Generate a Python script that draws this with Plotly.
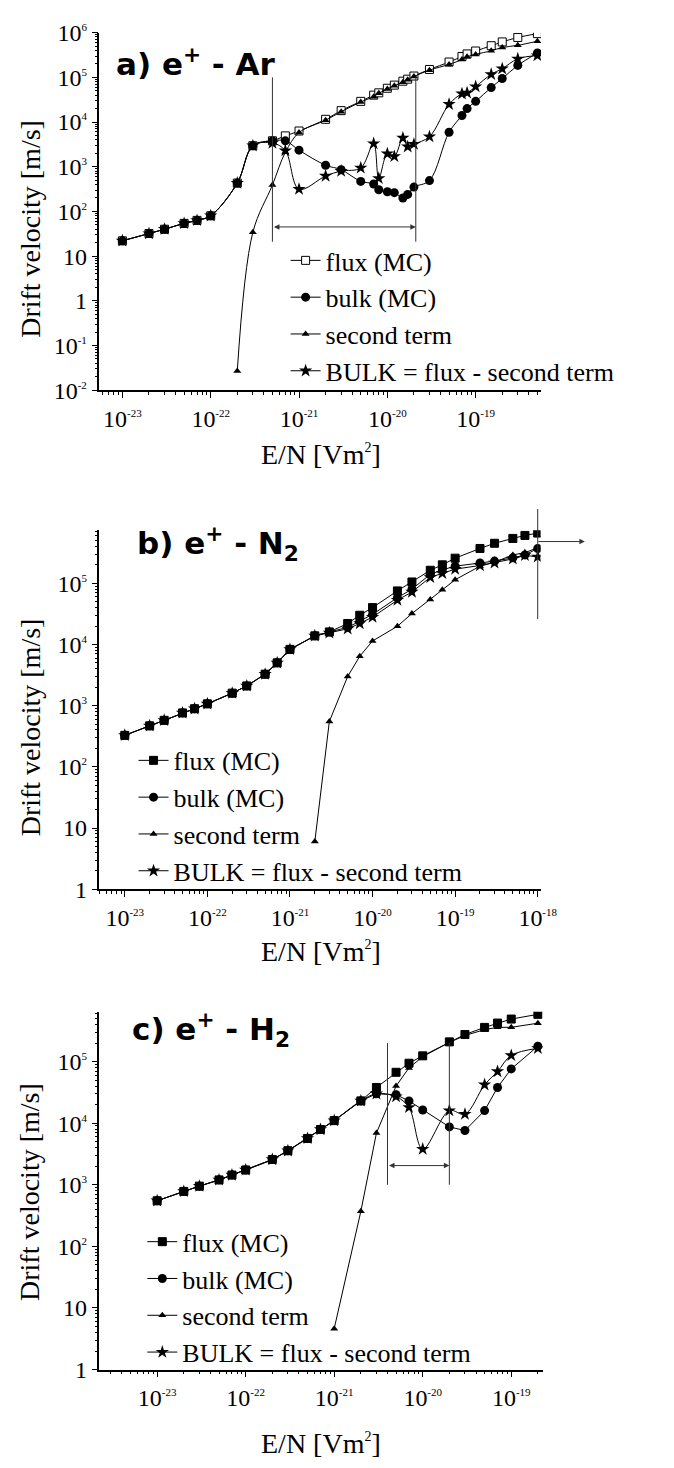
import numpy as np
import plotly.graph_objects as go

W, H = 674, 1468

# ---------------- Panel a : e+ - Ar ----------------
a_en = [1e-23, 2e-23, 3e-23, 5e-23, 7e-23, 1e-22, 2e-22, 3e-22, 5e-22, 7e-22,
        1e-21, 2e-21, 3e-21, 5e-21, 7e-21, 8e-21, 1e-20, 1.2e-20, 1.5e-20, 1.7e-20,
        2e-20, 3e-20, 5e-20, 7e-20, 8e-20, 1e-19, 1.5e-19, 2e-19, 3e-19, 5e-19]
a_flux = [22, 32, 40, 54, 63, 80, 430, 2950, 3800, 4900,
          6300, 11500, 18000, 29000, 40000, 45000, 57000, 67000, 82000, 91000,
          107000, 150000, 220000, 293000, 334000, 388000, 510000, 620000, 780000, 950000]
a_bulk = [22, 32, 40, 54, 63, 80, 430, 2950, 3800, 3800,
          2350, 1080, 860, 470, 410, 305, 275, 263, 200, 240,
          350, 490, 5900, 14000, 20000, 29000, 59000, 94000, 185000, 350000]
a_sec_en = [2e-22, 3e-22, 5e-22, 7e-22, 1e-21, 2e-21, 3e-21, 5e-21, 7e-21, 8e-21,
            1e-20, 1.2e-20, 1.5e-20, 1.7e-20, 2e-20, 3e-20, 5e-20, 7e-20, 8e-20, 1e-19,
            1.5e-19, 2e-19, 3e-19, 5e-19]
a_sec = [0.027, 34, 390, 2100, 5800, 11000, 17000, 28000, 37000, 44000,
         55000, 65000, 78000, 88000, 104000, 145000, 195000, 250000, 288000, 326000,
         393000, 464000, 520000, 643000]
a_BULK = [22, 32, 40, 54, 63, 80, 430, 2950, 3400, 2300,
          315, 620, 800, 940, 3300, 550, 1950, 1700, 4400, 2800,
          3200, 4700, 25000, 43000, 45000, 62000, 117000, 156000, 260000, 307000]

# ---------------- Panel b : e+ - N2 ----------------
b_en = [1e-23, 2e-23, 3e-23, 5e-23, 7e-23, 1e-22, 2e-22, 3e-22, 5e-22, 7e-22,
        1e-21, 2e-21, 3e-21, 5e-21, 7e-21, 1e-20, 2e-20, 3e-20, 5e-20, 7e-20,
        1e-19, 2e-19, 3e-19, 5e-19, 7e-19, 1e-18]
b_flux = [327, 467, 575, 760, 890, 1070, 1600, 2100, 3270, 5000,
          8300, 13800, 16000, 22000, 30000, 40000, 75000, 105000, 163000, 200000,
          257000, 370000, 450000, 540000, 605000, 660000]
b_bulk = [327, 467, 575, 760, 890, 1070, 1600, 2100, 3270, 5000,
          8300, 13800, 16000, 19000, 24000, 31000, 58000, 80000, 140000, 165000,
          190000, 214000, 230000, 260000, 290000, 370000]
b_sec_en = [2e-21, 3e-21, 5e-21, 7e-21, 1e-20, 2e-20, 3e-20, 5e-20, 7e-20,
            1e-19, 2e-19, 3e-19, 5e-19, 7e-19, 1e-18]
b_sec = [6, 550, 3000, 6400, 11400, 19800, 32000, 54000, 78000,
         114000, 190000, 221000, 290000, 316000, 380000]
b_BULK = [327, 467, 575, 760, 890, 1070, 1600, 2100, 3270, 5000,
          8300, 13800, 15500, 18000, 22000, 28000, 53000, 72000, 125000, 145000,
          170000, 195000, 215000, 250000, 285000, 270000]

# ---------------- Panel c : e+ - H2 ----------------
c_en = [1e-23, 2e-23, 3e-23, 5e-23, 7e-23, 1e-22, 2e-22, 3e-22, 5e-22, 7e-22,
        1e-21, 2e-21, 3e-21, 5e-21, 7e-21, 1e-20, 2e-20, 3e-20, 5e-20, 7e-20,
        1e-19, 2e-19]
c_flux = [550, 780, 950, 1200, 1440, 1740, 2570, 3570, 5650, 7900,
          11000, 23000, 38000, 67000, 94000, 124000, 209000, 275000, 359000, 422000,
          490000, 585000]
c_bulk = [550, 780, 950, 1200, 1440, 1740, 2570, 3570, 5650, 7900,
          11000, 23000, 30000, 29000, 23000, 16400, 8700, 7600, 16000, 38000,
          76000, 178000]
c_sec_en = [1e-21, 2e-21, 3e-21, 5e-21, 7e-21, 1e-20, 2e-20, 3e-20, 5e-20, 7e-20,
            1e-19, 2e-19]
c_sec = [4.6, 370, 6900, 40000, 79000, 120000, 205000, 265000, 330000, 360000,
         360000, 420000]
c_BULK = [550, 780, 950, 1200, 1440, 1740, 2570, 3570, 5650, 7900,
          11000, 23000, 30000, 27000, 18000, 3800, 16000, 14000, 42000, 69000,
          126000, 164000]

# marker lines (region brackets) in data units
a_region = [5e-22, 2.1e-20]
a_region_v = [21, 1e5]
a_arrow_y = 45
b_mark_x = 1e-18
b_arrow_y = 4.8e5
c_region = [4e-21, 2e-20]
c_region_v = [1000, 2e5]
c_arrow_y = 2050

# tick exponents
a_xexp = [-23, -22, -21, -20, -19]
a_yexp = [-2, -1, 0, 1, 2, 3, 4, 5, 6]
b_xexp = [-23, -22, -21, -20, -19, -18]
b_yexp = [0, 1, 2, 3, 4, 5]
c_xexp = [-23, -22, -21, -20, -19]
c_yexp = [0, 1, 2, 3, 4, 5]

SERIF = "Liberation Serif, Times New Roman, Times, serif"
SANS = "DejaVu Sans, Arial, sans-serif"


def px(p):
    return p / W


def py(p):
    return 1 - p / H


def plabel(e, sup=11):
    if e == 0:
        return "1"
    if e == 1:
        return "10"
    return "10<sup><span style='font-size:%dpx'>%d</span></sup>" % (sup, e)


def minor_vals(lo, hi):
    return [m * 10.0 ** e for e in range(lo, hi + 1) for m in range(2, 10)]


fig = go.Figure()

panels = [
    dict(sfx="", leg="legend", en=a_en, flux=a_flux, bulk=a_bulk, sen=a_sec_en, sec=a_sec,
         BULK=a_BULK, shape=("spline", "spline", "spline", "spline"), open_sq=True),
    dict(sfx="2", leg="legend2", en=b_en, flux=b_flux, bulk=b_bulk, sen=b_sec_en, sec=b_sec,
         BULK=b_BULK, shape=("linear", "linear", "linear", "linear"), open_sq=False),
    dict(sfx="3", leg="legend3", en=c_en, flux=c_flux, bulk=c_bulk, sen=c_sec_en, sec=c_sec,
         BULK=c_BULK, shape=("linear", "linear", "linear", "spline"), open_sq=False),
]

for p in panels:
    xa, ya = "x" + p["sfx"], "y" + p["sfx"]
    sq_fill = "white" if p["open_sq"] else "black"
    fig.add_trace(go.Scatter(
        x=p["en"], y=p["flux"], mode="lines+markers", name="flux (MC)",
        line=dict(color="black", width=1, shape=p["shape"][0]),
        marker=dict(symbol="square", size=8, color=sq_fill, line=dict(color="black", width=1)),
        xaxis=xa, yaxis=ya, legend=p["leg"], legendrank=1))
    fig.add_trace(go.Scatter(
        x=p["sen"], y=p["sec"], mode="lines+markers", name="second term",
        line=dict(color="black", width=1, shape=p["shape"][2]),
        marker=dict(symbol="triangle-up", size=7, color="black"),
        xaxis=xa, yaxis=ya, legend=p["leg"], legendrank=3))
    fig.add_trace(go.Scatter(
        x=p["en"], y=p["BULK"], mode="lines+markers", name="BULK = flux - second term",
        line=dict(color="black", width=1, shape=p["shape"][3]),
        marker=dict(symbol="star", size=10, color="black"),
        xaxis=xa, yaxis=ya, legend=p["leg"], legendrank=4))
    fig.add_trace(go.Scatter(
        x=p["en"], y=p["bulk"], mode="lines+markers", name="bulk (MC)",
        line=dict(color="black", width=1, shape=p["shape"][1]),
        marker=dict(symbol="circle", size=9, color="black"),
        xaxis=xa, yaxis=ya, legend=p["leg"], legendrank=2))

axis_common = dict(type="log", showgrid=False, zeroline=False, showline=True,
                   linecolor="black", linewidth=1.5, ticks="outside", ticklen=6,
                   tickwidth=1.2, tickcolor="black", mirror=False,
                   tickfont=dict(family=SERIF, size=24, color="black"))

# geometry in pixels: (x0, x1, ytop, ybottom), x range (log), y range (log)
geo = [
    ((102, 555, 20, 384), [-23.26, -18.26], [-2, 6], a_xexp, a_yexp),
    ((102, 554.6, 526.7, 892), [-23.307, -17.965], [0, 5.864], b_xexp, b_yexp),
    ((102, 556.7, 1016.7, 1381), [-23.652, -18.645], [0, 5.81], c_xexp, c_yexp),
]

layout_axes = {}
for i, (g, xr, yr, xe, ye) in enumerate(geo):
    sfx = "" if i == 0 else str(i + 1)
    x0, x1, yt, yb = g
    layout_axes["xaxis" + sfx] = dict(
        axis_common, domain=[px(x0), px(x1)], range=xr, anchor="y" + sfx,
        tickmode="array", tickvals=[10.0 ** e for e in xe],
        ticktext=[plabel(e) for e in xe],
        minor=dict(tickmode="array", tickvals=minor_vals(xe[0] - 1, xe[-1]),
                   ticks="outside", ticklen=3, tickwidth=1, tickcolor="black", showgrid=False))
    layout_axes["yaxis" + sfx] = dict(
        axis_common, domain=[py(yb), py(yt)], range=yr, anchor="x" + sfx,
        tickmode="array", tickvals=[10.0 ** e for e in ye],
        ticktext=[plabel(e) for e in ye],
        minor=dict(tickmode="array", tickvals=minor_vals(ye[0] - 1, ye[-1]),
                   ticks="outside", ticklen=3, tickwidth=1, tickcolor="black", showgrid=False))

leg_common = dict(xanchor="left", yanchor="top", bgcolor="rgba(0,0,0,0)",
                  font=dict(family=SERIF, size=26, color="black"),
                  itemwidth=30, tracegroupgap=0, borderwidth=0)

annotations = []
# panel titles
titles = [("a) e<sup>+</sup> - Ar", 117, 50), ("b) e<sup>+</sup> - N<sub>2</sub>", 138, 540),
          ("c) e<sup>+</sup> - H<sub>2</sub>", 133, 1035)]
for t, x, y in titles:
    annotations.append(dict(text=t, xref="paper", yref="paper", x=px(x), y=py(y),
                            xanchor="left", yanchor="middle", showarrow=False,
                            font=dict(family=SANS, size=31, color="black", weight="bold")))
# y titles
for yc in [219.5, 727, 1200]:
    annotations.append(dict(text="Drift velocity [m/s]", xref="paper", yref="paper",
                            x=px(31), y=py(yc), textangle=-90, showarrow=False,
                            xanchor="center", yanchor="middle",
                            font=dict(family=SERIF, size=28, color="black")))
# x titles
for yc in [449, 955, 1456]:
    annotations.append(dict(text="E/N [Vm<sup><span style='font-size:14px'>2</span></sup>]",
                            xref="paper", yref="paper", x=px(329), y=py(yc),
                            showarrow=False, xanchor="center", yanchor="middle",
                            font=dict(family=SERIF, size=28, color="black")))

# double arrows (annotation coordinates on log axes are log10 values)
arr = dict(showarrow=True, arrowhead=2, arrowsize=1.1, arrowwidth=1, arrowcolor="#333",
           arrowside="end+start", text="", standoff=0, startstandoff=0)
annotations.append(dict(arr, xref="x", yref="y", axref="x", ayref="y",
                        x=np.log10(a_region[1]), y=np.log10(a_arrow_y),
                        ax=np.log10(a_region[0]), ay=np.log10(a_arrow_y)))
annotations.append(dict(arr, xref="x3", yref="y3", axref="x3", ayref="y3",
                        x=np.log10(c_region[1]), y=np.log10(c_arrow_y),
                        ax=np.log10(c_region[0]), ay=np.log10(c_arrow_y)))
annotations.append(dict(showarrow=True, arrowhead=2, arrowsize=1.1, arrowwidth=1,
                        arrowcolor="#333", text="", xref="paper", yref="y2",
                        x=px(600), y=np.log10(b_arrow_y), ax=-48, ay=0, standoff=0))

shapes = []
for xv in a_region:
    shapes.append(dict(type="line", xref="x", yref="y", x0=xv, x1=xv,
                       y0=a_region_v[0], y1=a_region_v[1], line=dict(color="#333", width=1)))
for xv in c_region:
    shapes.append(dict(type="line", xref="x3", yref="y3", x0=xv, x1=xv,
                       y0=c_region_v[0], y1=c_region_v[1], line=dict(color="#333", width=1)))
shapes.append(dict(type="line", xref="x2", yref="paper", x0=b_mark_x, x1=b_mark_x,
                   y0=py(617), y1=py(505), line=dict(color="#333", width=1)))

fig.update_layout(
    width=W, height=H, margin=dict(l=0, r=0, t=0, b=0),
    paper_bgcolor="white", plot_bgcolor="white",
    font=dict(family=SERIF, color="black"),
    legend=dict(leg_common, x=px(293), y=py(228)),
    legend2=dict(leg_common, x=px(137), y=py(737)),
    legend3=dict(leg_common, x=px(146), y=py(1227)),
    annotations=annotations, shapes=shapes,
    **layout_axes,
)

fig.write_html("out.html", config={"displayModeBar": False},
               post_script="document.body.style.margin='0';document.body.style.overflow='hidden';")
